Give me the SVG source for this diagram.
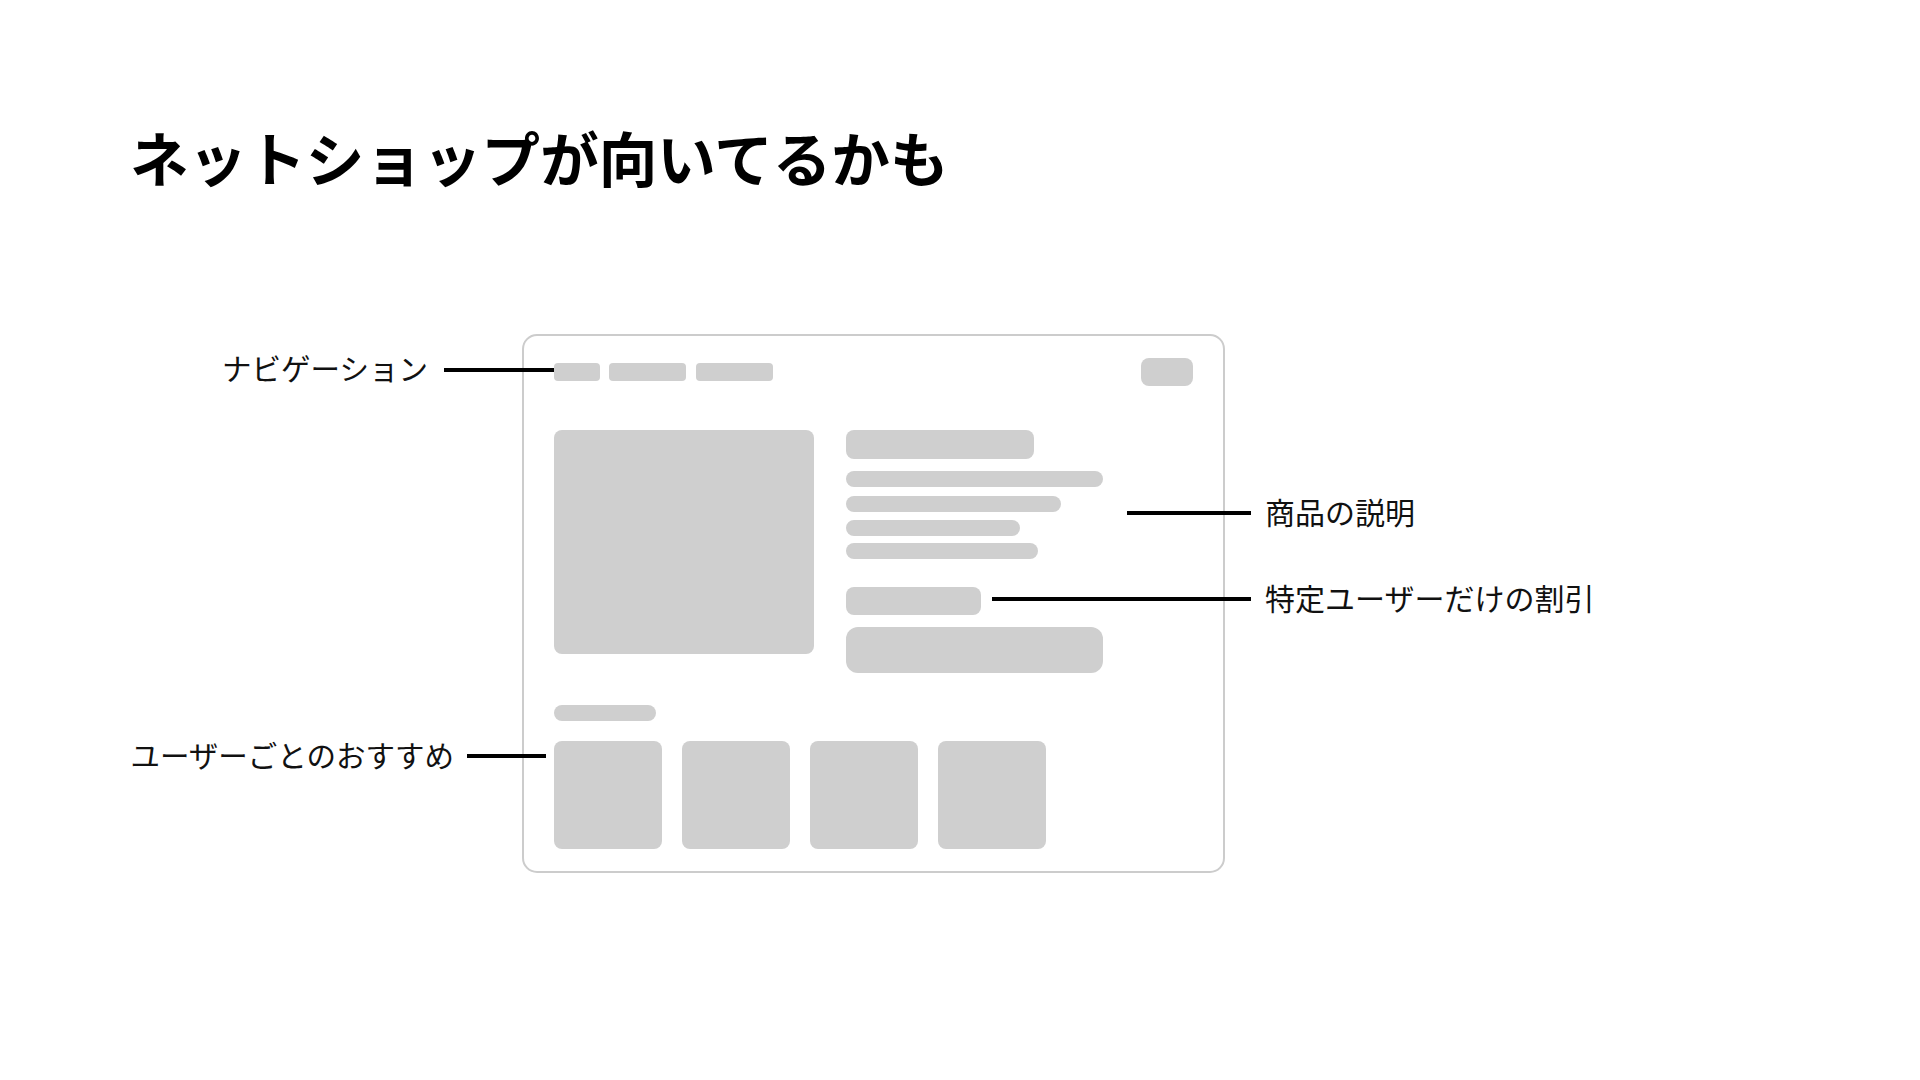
<svg xmlns="http://www.w3.org/2000/svg" width="1920" height="1080" viewBox="0 0 1920 1080">
  <style>
    .title { font-family: "Noto Sans CJK JP", "Noto Sans", sans-serif; font-size: 58.6px; font-weight: 700; fill: #000; }
    .label { font-family: "Noto Sans CJK JP", "Noto Sans", sans-serif; font-size: 30px; font-weight: 400; fill: #111; dominant-baseline: central; }
    .label-s { font-size: 29.5px; }
    .block { fill: #cfcfcf; }
    .frame { fill: #fff; stroke: #cccccc; stroke-width: 2; }
    .conn { stroke: #000; stroke-width: 4; fill: none; }
  </style>
  <rect width="1920" height="1080" fill="#fff"/>
  <text class="title" x="130" y="182">ネットショップが向いてるかも</text>

  <g id="browser-frame">
    <rect class="frame" x="523" y="335" width="701" height="537" rx="14"/>
  </g>
  <g id="navigation">
    <rect class="block" x="554" y="363" width="46" height="18" rx="4"/>
    <rect class="block" x="609" y="363" width="77" height="18" rx="4"/>
    <rect class="block" x="696" y="363" width="77" height="18" rx="4"/>
    <rect class="block" x="1141" y="358" width="52" height="28" rx="8"/>
  </g>
  <g id="product-image">
    <rect class="block" x="554" y="430" width="260" height="224" rx="8"/>
  </g>
  <g id="product-description">
    <rect class="block" x="846" y="430" width="188" height="29" rx="8"/>
    <rect class="block" x="846" y="471" width="257" height="16" rx="8"/>
    <rect class="block" x="846" y="496" width="215" height="16" rx="8"/>
    <rect class="block" x="846" y="520" width="174" height="16" rx="8"/>
    <rect class="block" x="846" y="543" width="192" height="16" rx="8"/>
  </g>
  <g id="discount">
    <rect class="block" x="846" y="587" width="135" height="28" rx="8"/>
    <rect class="block" x="846" y="627" width="257" height="46" rx="12"/>
  </g>
  <g id="recommendations">
    <rect class="block" x="554" y="705" width="102" height="16" rx="8"/>
    <rect class="block" x="554" y="741" width="108" height="108" rx="8"/>
    <rect class="block" x="682" y="741" width="108" height="108" rx="8"/>
    <rect class="block" x="810" y="741" width="108" height="108" rx="8"/>
    <rect class="block" x="938" y="741" width="108" height="108" rx="8"/>
  </g>

  <g id="connectors">
    <line class="conn" x1="444" y1="370" x2="554" y2="370"/>
    <line class="conn" x1="1127" y1="513" x2="1251" y2="513"/>
    <line class="conn" x1="992" y1="599" x2="1251" y2="599"/>
    <line class="conn" x1="467" y1="756" x2="546" y2="756"/>
  </g>

  <g id="label-navigation">
    <text class="label label-s" x="428" y="367" text-anchor="end">ナビゲーション</text>
  </g>
  <g id="label-description">
    <text class="label" x="1265" y="511">商品の説明</text>
  </g>
  <g id="label-discount">
    <text class="label" x="1265" y="597">特定ユーザーだけの割引</text>
  </g>
  <g id="label-recommend">
    <text class="label label-s" x="454" y="754" text-anchor="end">ユーザーごとのおすすめ</text>
  </g>
</svg>
